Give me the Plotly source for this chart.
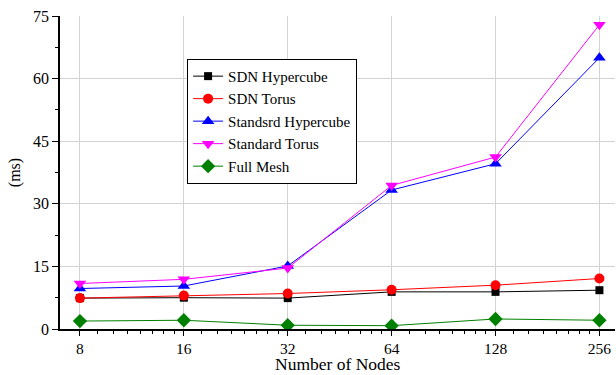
import plotly.graph_objects as go

# Network size (number of nodes) and measured latency in ms
nodes = [8, 16, 32, 64, 128, 256]
sdn_hypercube = [7.4, 7.5, 7.4, 8.9, 8.9, 9.3]
sdn_torus = [7.4, 8.0, 8.5, 9.4, 10.5, 12.1]
standard_hypercube = [9.7, 10.3, 15.1, 33.3, 39.6, 65.0]
standard_torus = [10.9, 11.9, 14.6, 34.4, 41.2, 72.9]
full_mesh = [1.9, 2.1, 0.9, 0.8, 2.4, 2.1]

y_ticks = [0, 15, 30, 45, 60, 75]

series = [
    ("SDN Hypercube", sdn_hypercube, "black", "square", 8),
    ("SDN Torus", sdn_torus, "red", "circle", 10),
    ("Standsrd Hypercube", standard_hypercube, "blue", "triangle-up", 11),
    ("Standard Torus", standard_torus, "magenta", "triangle-down", 11),
    ("Full Mesh", full_mesh, "green", "diamond", 11),
]

fig = go.Figure()
for name, vals, color, symbol, size in series:
    fig.add_trace(go.Scatter(
        x=nodes, y=vals, name=name, mode="lines+markers",
        line=dict(color=color, width=1),
        marker=dict(color=color, symbol=symbol, size=size),
    ))

# minor ticks: seven evenly stepped values inside each doubling
minor_vals = []
for lo in nodes[:-1]:
    step = lo // 8
    minor_vals += [lo + k * step for k in range(1, 8)]

font = "Liberation Serif"
fig.update_layout(
    width=616, height=375,
    margin=dict(l=60, r=1, t=16, b=46),
    paper_bgcolor="white", plot_bgcolor="white",
    font=dict(family=font, size=16, color="black"),
    showlegend=True,
    legend=dict(
        x=0.229, y=0.863, xanchor="left", yanchor="top",
        bgcolor="white", bordercolor="black", borderwidth=1,
        font=dict(family=font, size=15),
        tracegroupgap=0, itemwidth=30,
    ),
    xaxis=dict(
        type="log", automargin=False,
        range=[2.808 * 0.30103, 8.15 * 0.30103],
        tickmode="array", tickvals=nodes, ticktext=[str(n) for n in nodes],
        ticks="outside", ticklen=5, tickcolor="black",
        showline=True, linecolor="black", linewidth=1.5,
        showgrid=True, gridcolor="#d3d3d3", gridwidth=1,
        zeroline=False,
        minor=dict(tickmode="array", tickvals=minor_vals, ticks="outside",
                   ticklen=3, tickcolor="black", showgrid=False),
        tickfont=dict(family=font, size=15.5),
    ),
    yaxis=dict(
        range=[0, 75],
        tickmode="array", tickvals=y_ticks,
        ticks="outside", ticklen=6, tickcolor="black",
        showline=True, linecolor="black", linewidth=1.5,
        showgrid=True, gridcolor="#d3d3d3", gridwidth=1,
        zeroline=False,
        minor=dict(tickmode="linear", tick0=7.5, dtick=15, ticks="outside",
                   ticklen=3, tickcolor="black", showgrid=False),
        title=dict(text="(ms)", standoff=8,
                   font=dict(family=font, size=16)),
        tickfont=dict(family=font, size=16),
    ),
)

# x-axis caption set along the bottom edge, under the tick labels
fig.add_annotation(
    text="Number of Nodes", xref="paper", yref="paper", x=0.5, y=0,
    xanchor="center", yanchor="bottom", yshift=-46, borderpad=0,
    showarrow=False, font=dict(family=font, size=17.5),
)

fig.write_html("out.html")
